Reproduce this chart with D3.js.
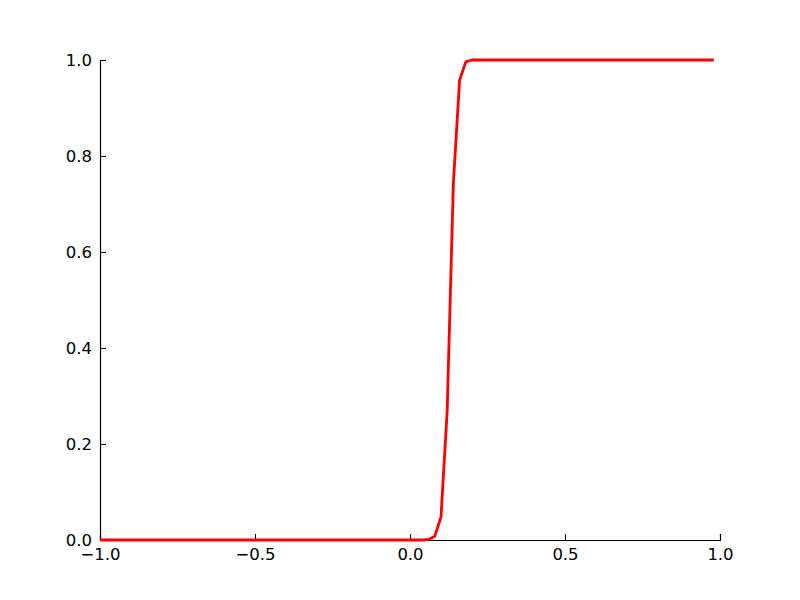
<!DOCTYPE html>
<meta charset="utf-8">
<script src="https://d3js.org/d3.v7.min.js"></script>
<style>
  body { margin: 0; background: #fff; }
  svg text { font-family: "DejaVu Sans", sans-serif; }
</style>
<div id="my_dataviz"></div>
<script>

// curve values (flat parts only need their ends)
var xValues = [-1.0, 0.04, 0.06, 0.08, 0.10, 0.12, 0.14, 0.16, 0.18, 0.20, 0.98];
var yValues = [0.0, 0.0, 0.001, 0.008, 0.048, 0.27, 0.745, 0.958, 0.996, 1.0, 1.0];

var xTicks = [-1.0, -0.5, 0.0, 0.5, 1.0];
var yTicks = [0.0, 0.2, 0.4, 0.6, 0.8, 1.0];

// set the dimensions and margins of the graph
var margin = {top: 60, right: 80, bottom: 60, left: 100},
    width = 800 - margin.left - margin.right,
    height = 600 - margin.top - margin.bottom;

var svg = d3.select("#my_dataviz")
  .append("svg")
    .attr("width", 800)
    .attr("height", 600)
  .append("g")
    .attr("transform", "translate(" + margin.left + "," + margin.top + ")");

var x = d3.scaleLinear().domain([-1, 1]).range([0, width]);
var y = d3.scaleLinear().domain([0, 1]).range([height, 0]);

var fmt = function(d) { return d3.format(".1f")(d).replace("-", "\u2212"); };

// X axis, ticks pointing inward
var xAxis = svg.append("g")
  .attr("transform", "translate(0," + height + ")")
  .call(d3.axisBottom(x).tickValues(xTicks).tickSize(-6).tickPadding(8).tickFormat(fmt));

// Y axis
var yAxis = svg.append("g")
  .call(d3.axisLeft(y).tickValues(yTicks).tickSize(-6).tickPadding(8).tickFormat(fmt));

[xAxis, yAxis].forEach(function(a) {
  a.select(".domain").attr("stroke", "#000").attr("stroke-width", 1.2);
  a.selectAll(".tick line").attr("stroke", "#000").attr("stroke-width", 1);
  a.selectAll(".tick text").attr("fill", "#000").style("font-size", "16.5px");
});

// the line
var data = xValues.map(function(v, i) { return {x: v, y: yValues[i]}; });

svg.append("path")
  .datum(data)
  .attr("fill", "none")
  .attr("stroke", "#ff0000")
  .attr("stroke-width", 2.8)
  .attr("stroke-linejoin", "round")
  .attr("d", d3.line()
    .x(function(d) { return x(d.x); })
    .y(function(d) { return y(d.y); }));

</script>
